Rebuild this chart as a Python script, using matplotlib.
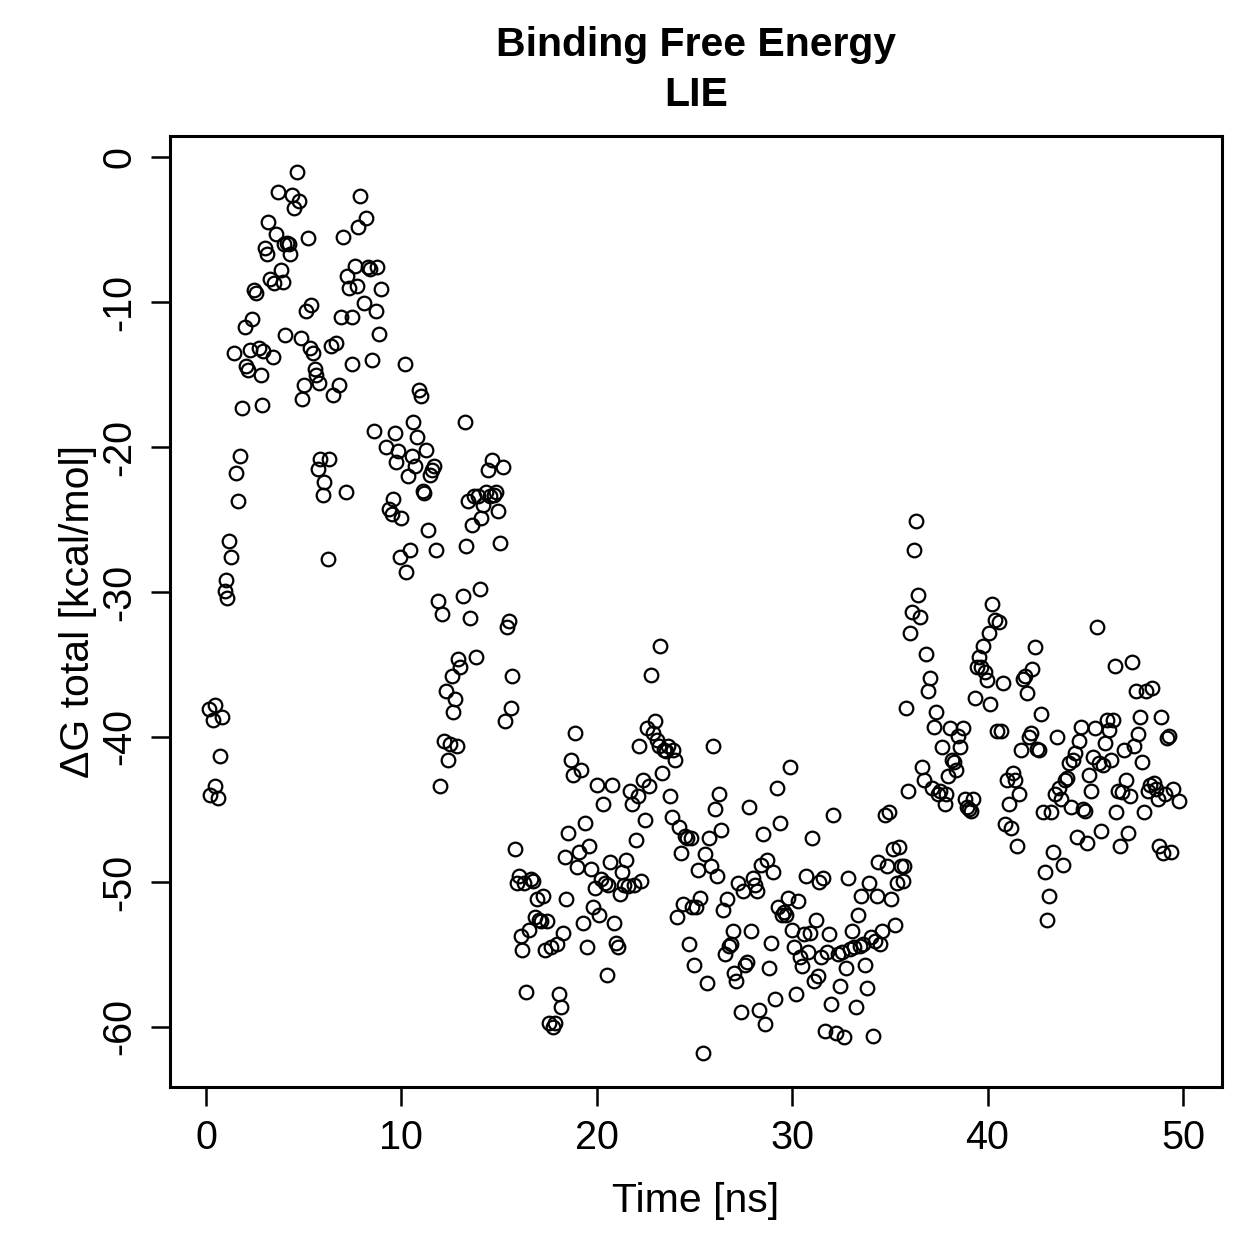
import matplotlib
matplotlib.use("Agg")
import matplotlib.pyplot as plt

time_ns = [
 0.15,0.2,0.35,0.45,0.45,0.6,0.7,0.8,0.95,1.05,1.1,1.2,1.3,1.45,1.55,1.65,1.75,1.85,2.0,2.05,
 2.15,2.35,2.45,2.55,2.25,2.7,2.8,2.85,2.9,3.0,3.1,3.2,3.3,3.45,3.5,3.6,3.7,3.85,3.95,4.0,
 4.05,4.15,4.25,4.3,4.4,4.5,4.65,4.75,4.85,4.9,5.0,5.1,5.2,5.3,5.4,5.5,5.6,5.65,5.8,5.75,
 5.85,6.0,6.05,6.25,6.3,6.4,6.5,6.65,6.8,6.9,7.0,7.15,7.2,7.3,7.45,7.5,7.65,7.75,7.8,7.9,
 8.1,8.2,8.3,8.4,8.5,8.6,8.7,8.75,8.85,8.95,
 9.2,9.35,9.5,9.55,9.65,9.75,9.85,10.0,9.95,10.2,10.25,10.35,10.45,10.55,10.6,10.7,10.8,10.9,11.0,11.1,
 11.15,11.25,11.35,11.45,11.55,11.65,11.75,11.9,12.0,12.1,12.2,12.3,12.4,12.5,12.6,12.65,12.75,12.85,12.9,13.0,
 13.15,13.25,13.3,13.4,13.5,13.6,13.7,13.8,13.9,14.0,14.1,14.2,14.35,14.45,14.55,14.65,14.75,14.85,14.95,15.05,
 15.2,15.3,15.4,15.5,15.6,15.65,15.8,15.9,16.0,16.1,16.2,16.3,16.4,16.55,16.65,16.75,16.85,16.95,17.05,17.15,
 17.25,17.35,17.45,17.55,17.65,17.75,17.85,17.95,18.05,18.15,18.25,18.35,18.45,18.55,18.7,18.8,18.9,19.0,19.1,19.2,
 19.3,19.4,19.5,19.6,19.7,19.8,19.9,20.0,20.1,20.2,20.3,20.4,20.55,20.6,20.7,20.8,20.9,21.0,21.1,21.2,
 21.3,21.4,21.5,21.6,21.7,21.8,21.9,22.0,22.1,22.15,22.25,22.35,22.45,22.55,22.7,22.8,22.9,23.0,23.1,23.2,
 23.25,23.35,23.45,23.55,23.65,23.75,23.85,23.9,24.0,24.1,24.2,24.3,24.4,24.5,24.6,24.7,24.8,24.9,25.0,25.1,
 25.2,25.3,25.45,25.55,25.65,25.75,25.85,25.95,26.05,26.15,26.25,26.35,26.45,26.55,26.65,26.75,26.85,26.95,27.05,27.15,
 27.25,27.4,27.5,27.6,27.7,27.8,27.9,28.0,28.1,28.2,28.3,28.4,28.5,28.6,28.7,28.8,28.9,29.0,29.1,29.2,
 29.3,29.4,29.5,29.6,29.7,29.8,29.9,30.0,30.1,30.2,30.3,30.4,30.5,30.6,30.7,30.8,30.9,31.0,31.1,31.2,
 31.3,31.4,31.5,31.6,31.7,31.8,31.9,32.0,32.1,32.25,32.35,32.45,32.55,32.65,32.75,32.85,32.95,33.05,33.15,33.25,
 33.35,33.45,33.55,33.65,33.75,33.85,33.95,34.05,34.15,34.25,34.35,34.4,34.5,34.6,34.75,34.85,34.95,35.05,35.15,35.25,
 35.35,35.45,35.55,35.65,35.75,35.85,35.95,36.05,36.15,36.25,36.35,36.45,36.55,36.65,36.75,36.85,36.95,37.05,37.15,37.25,
 37.35,37.45,37.55,37.65,37.8,37.9,38.0,38.1,38.2,38.3,38.4,38.5,38.6,38.75,38.85,38.95,39.05,39.15,39.25,39.35,
 39.45,39.55,39.65,39.75,39.85,39.95,40.05,40.15,40.25,40.4,40.5,40.6,40.7,40.8,40.9,41.0,41.1,41.2,41.3,41.4,
 41.5,41.6,41.7,41.8,41.9,42.0,42.1,42.2,42.3,42.45,42.55,42.65,42.75,42.85,42.95,43.05,43.15,43.25,43.35,43.45,
 43.55,43.65,43.75,43.85,43.95,44.05,44.15,44.25,44.35,44.5,44.6,44.7,44.8,44.9,45.0,45.1,45.2,45.3,45.4,45.5,
 45.6,45.7,45.8,45.9,46.0,46.1,46.2,46.3,46.4,46.5,46.6,46.7,46.8,46.9,47.0,47.1,47.2,47.3,47.4,47.5,
 47.6,47.7,47.8,47.9,48.0,48.1,48.2,48.3,48.4,48.5,48.6,48.7,48.8,48.9,49.0,49.1,49.2,49.3,49.4,49.5,
 49.8,
]

dg_total = [
 -38.1,-44.0,-38.8,-37.8,-43.4,-44.2,-41.3,-38.6,-29.9,-29.2,-30.4,-26.5,-27.6,-13.5,-21.8,-23.7,-20.6,-17.3,-11.7,-14.4,
 -14.7,-11.2,-9.2,-9.4,-13.3,-13.2,-15.0,-17.1,-13.4,-6.3,-6.7,-4.5,-8.4,-13.8,-8.7,-5.3,-2.4,-7.8,-8.6,-6.0,
 -12.3,-5.9,-6.0,-6.7,-2.6,-3.5,-1.0,-3.0,-12.5,-16.7,-15.7,-10.6,-5.6,-13.2,-10.2,-13.5,-14.6,-15.0,-15.6,-21.5,
 -20.8,-23.3,-22.4,-27.7,-20.8,-13.0,-16.4,-12.8,-15.7,-11.0,-5.5,-23.1,-8.2,-9.0,-14.3,-11.0,-7.5,-8.9,-4.8,-2.7,
 -10.1,-4.2,-7.6,-7.7,-14.0,-18.9,-10.6,-7.6,-12.2,-9.1,
 -20.0,-24.3,-24.6,-23.6,-19.0,-21.0,-20.3,-24.9,-27.6,-14.3,-28.6,-22.0,-27.1,-20.6,-18.3,-21.3,-19.3,-16.1,-16.5,-23.0,
 -23.2,-20.2,-25.7,-21.9,-21.6,-21.3,-27.1,-30.6,-43.4,-31.5,-40.3,-36.8,-41.6,-40.5,-35.8,-38.3,-37.4,-40.6,-34.6,-35.2,
 -30.3,-18.3,-26.8,-23.7,-31.8,-25.4,-23.4,-34.5,-23.4,-29.8,-24.9,-24.0,-23.1,-21.6,-23.4,-20.9,-23.3,-23.1,-24.4,-26.6,
 -21.4,-38.9,-32.4,-32.0,-38.0,-35.8,-47.7,-50.1,-49.6,-53.7,-54.7,-50.1,-57.6,-53.3,-49.8,-49.9,-52.4,-51.2,-52.6,-52.7,
 -51.0,-54.7,-52.7,-59.7,-54.5,-60.0,-59.7,-54.3,-57.7,-58.6,-53.5,-48.3,-51.2,-46.6,-41.6,-42.6,-39.7,-49.0,-47.9,-42.3,
 -52.8,-45.9,-54.5,-47.5,-49.1,-51.7,-50.4,-43.3,-52.3,-49.8,-44.6,-50.1,-56.4,-50.2,-48.6,-43.3,-52.8,-54.2,-54.5,-50.8,
 -49.3,-50.2,-48.5,-50.3,-43.7,-44.6,-50.2,-47.1,-44.1,-40.6,-49.9,-43.0,-45.7,-39.4,-43.4,-35.7,-39.7,-38.9,-40.2,-40.6,
 -33.7,-42.5,-40.9,-41.0,-40.6,-44.1,-45.5,-40.9,-41.6,-52.4,-46.2,-48.0,-51.5,-46.8,-47.0,-54.3,-47.0,-51.7,-55.7,-51.7,
 -49.2,-51.1,-61.8,-48.1,-57.0,-47.0,-48.9,-40.6,-45.0,-49.6,-43.9,-46.4,-51.9,-55.0,-51.2,-54.4,-54.3,-53.4,-56.3,-56.8,
 -50.1,-59.0,-50.6,-55.7,-55.5,-44.8,-53.4,-49.7,-50.2,-50.6,-58.8,-48.8,-46.7,-59.8,-48.5,-55.9,-54.2,-49.3,-58.1,-43.5,
 -51.7,-45.9,-52.3,-52.1,-52.3,-51.1,-42.1,-53.3,-54.5,-57.7,-51.3,-55.2,-55.8,-53.6,-49.6,-54.8,-53.5,-47.0,-56.8,-52.6,
 -56.5,-50.0,-55.2,-49.7,-60.3,-54.8,-53.6,-58.4,-45.4,-60.4,-55.0,-57.2,-54.8,-60.7,-55.9,-49.7,-54.6,-53.4,-54.5,-58.6,
 -52.3,-54.4,-51.0,-54.3,-55.7,-57.3,-50.1,-53.8,-60.6,-54.1,-51.0,-48.6,-54.3,-53.4,-45.4,-48.9,-45.2,-51.2,-47.7,-53.0,
 -50.1,-47.6,-48.9,-49.9,-48.9,-38.0,-43.7,-32.8,-31.4,-27.1,-25.1,-30.2,-31.7,-42.1,-43.0,-34.3,-36.8,-35.9,-43.5,-39.3,
 -38.3,-43.9,-43.7,-40.7,-44.6,-43.9,-42.7,-39.4,-41.6,-41.7,-42.3,-39.9,-40.7,-39.4,-44.3,-44.8,-45.0,-45.1,-44.3,-37.3,
 -35.2,-34.5,-35.2,-33.7,-35.5,-36.1,-32.8,-37.7,-30.8,-31.9,-39.6,-32.1,-39.6,-36.3,-46.0,-43.0,-44.6,-46.3,-42.5,-43.0,
 -47.5,-43.9,-40.9,-36.0,-35.8,-37.0,-40.0,-39.7,-35.3,-33.8,-40.8,-40.9,-38.4,-45.2,-49.3,-52.6,-51.0,-45.2,-47.9,-43.9,
 -40.0,-43.5,-44.3,-48.8,-43.0,-42.8,-41.8,-44.8,-41.6,-41.1,-46.9,-40.3,-39.3,-45.0,-45.1,-47.3,-42.6,-43.7,-41.4,-39.4,
 -32.4,-41.8,-46.5,-41.9,-40.4,-38.8,-39.5,-41.6,-38.8,-35.1,-45.2,-43.7,-47.5,-43.8,-40.9,-43.0,-46.6,-44.1,-34.8,-40.6,
 -36.8,-39.8,-38.6,-41.7,-45.2,-36.8,-43.7,-43.3,-36.6,-43.2,-43.6,-44.3,-47.5,-38.6,-48.0,-43.9,-40.1,-39.9,-47.9,-43.6,
 -44.4,
]

x_ticks = [0, 10, 20, 30, 40, 50]
y_ticks = [0, -10, -20, -30, -40, -50, -60]

plt.rcParams['font.family'] = ['Liberation Sans', 'DejaVu Sans']

fig = plt.figure(figsize=(12.59, 12.59), dpi=100)
ax = fig.add_axes([170/1259, 1 - 1087/1259, (1222-170)/1259, (1087-136)/1259])

ax.plot(time_ns, dg_total, linestyle='none', marker='o', markersize=9.8,
        markerfacecolor='none', markeredgecolor='black', markeredgewidth=1.6)

ax.set_xlim(-1.84, 52.0)
ax.set_ylim(-64.14, 1.45)
ax.set_xticks(x_ticks)
ax.set_yticks(y_ticks)
ax.set_xticklabels([str(v) for v in x_ticks])
ax.set_yticklabels([str(v) for v in y_ticks], rotation=90, va='center')
ax.tick_params(direction='out', length=14, width=1.8, labelsize=28.5, pad=9)
for s in ax.spines.values():
    s.set_linewidth(2.2)

ax.set_xlabel('Time [ns]', fontsize=29.5, labelpad=18)
ax.set_ylabel('\u0394G total [kcal/mol]', fontsize=29.5, labelpad=2)
fig.text(696/1259, 1 - 45/1259, 'Binding Free Energy', ha='center', va='center',
         fontsize=29.5, fontweight='bold')
fig.text(696/1259, 1 - 95/1259, 'LIE', ha='center', va='center',
         fontsize=29.5, fontweight='bold')

fig.savefig('out.png', dpi=100)
